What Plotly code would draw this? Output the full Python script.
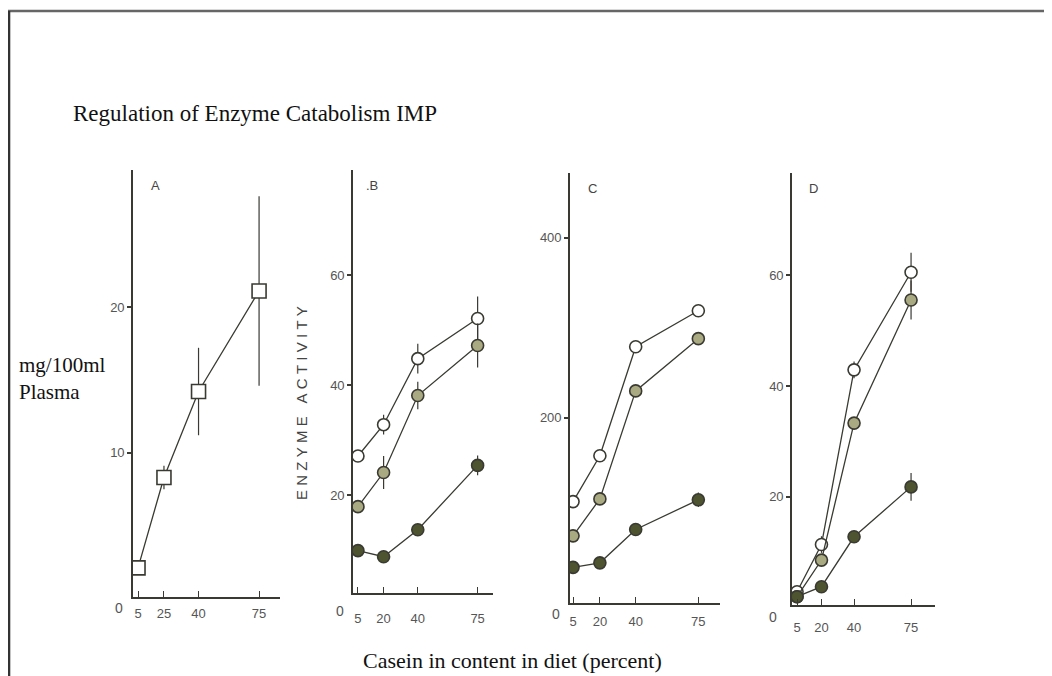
import plotly.graph_objects as go

# The page body has an 8px margin, so the figure is placed 8px right/down;
# the pixel positions below are measured on the page and shifted back.
OFF = 8
W, H = 1052 - OFF, 676 - OFF

# ---- data ----
casein = [5, 20, 40, 75]
a_tick_text = ["5", "25", "40", "75"]
bcd_tick_text = ["5", "20", "40", "75"]

a_plasma = [2.1, 8.3, 14.2, 21.1]
a_err = [0, 0.8, 3.0, 6.5]

b_open = [27.1, 32.8, 44.8, 52.1]
b_open_err = [0, 1.8, 2.7, 4.0]
b_half = [17.9, 24.1, 38.1, 47.2]
b_half_err = [0, 3.0, 2.5, 4.0]
b_fill = [9.9, 8.8, 13.7, 25.4]
b_fill_err = [0, 0, 0, 1.8]

c_open = [107, 158, 279, 319]
c_open_err = [0, 0, 0, 6]
c_half = [69, 110, 230, 288]
c_half_err = [0, 0, 0, 0]
c_fill = [34, 39, 76, 109]
c_fill_err = [0, 0, 0, 8]

d_open = [2.9, 11.4, 42.9, 60.5]
d_open_err = [0, 1.5, 1.5, 3.5]
d_half = [2.0, 8.6, 33.3, 55.5]
d_half_err = [0, 0, 0, 3.5]
d_fill = [2.0, 3.8, 12.8, 21.8]
d_fill_err = [0, 0, 0, 2.5]

a_yticks = [10, 20]
b_yticks = [20, 40, 60]
c_yticks = [200, 400]
d_yticks = [20, 40, 60]

# ---- style ----
LINE = "#3a3a32"
OPEN_FILL = "white"
HALF_FILL = "#a9a982"
FULL_FILL = "#4f5430"
TICKFONT = dict(family="Liberation Sans, Arial, sans-serif", size=13, color="#555555")
SERIF = "Liberation Serif, Times New Roman, serif"


def px_x(p):
    return (p - OFF) / W


def px_y(p):
    return 1 - (p - OFF) / H


fig = go.Figure()


def add_series(xa, ya, ys, errs, fill, symbol="circle", size=12):
    fig.add_trace(go.Scatter(
        x=casein, y=ys, xaxis=xa, yaxis=ya, mode="lines+markers",
        line=dict(color=LINE, width=1.3),
        marker=dict(symbol=symbol, size=size, color=fill,
                    line=dict(color=LINE, width=1.6)),
        error_y=dict(type="data", array=errs, visible=True,
                     color=LINE, thickness=1.2, width=0),
        showlegend=False, hoverinfo="x+y",
    ))


add_series("x", "y", a_plasma, a_err, OPEN_FILL, symbol="square", size=14)
for ys, e, f in [(b_open, b_open_err, OPEN_FILL), (b_half, b_half_err, HALF_FILL), (b_fill, b_fill_err, FULL_FILL)]:
    add_series("x2", "y2", ys, e, f)
for ys, e, f in [(c_open, c_open_err, OPEN_FILL), (c_half, c_half_err, HALF_FILL), (c_fill, c_fill_err, FULL_FILL)]:
    add_series("x3", "y3", ys, e, f)
for ys, e, f in [(d_open, d_open_err, OPEN_FILL), (d_half, d_half_err, HALF_FILL), (d_fill, d_fill_err, FULL_FILL)]:
    add_series("x4", "y4", ys, e, f)

# panel geometry in page pixels: (left, right, bottom, top), x range, y range, label standoff
panels = [
    ((133, 280, 597, 170), [2.1, 87.1], [0.1, 29.4], a_tick_text, a_yticks, 4),
    ((353, 493, 593, 170), [2.1, 84.0], [2.2, 79.1], bcd_tick_text, b_yticks, 13),
    ((570, 720, 603, 173), [3.3, 87.1], [-5.6, 472], bcd_tick_text, c_yticks, 6),
    ((792, 935, 605, 173), [1.9, 89.7], [0.5, 78.4], bcd_tick_text, d_yticks, 10),
]

layout = dict(
    width=W, height=H, margin=dict(l=0, r=0, t=0, b=0),
    paper_bgcolor="white", plot_bgcolor="white",
)
for i, ((l, r, b, t), xr, yr, xtt, ytv, so) in enumerate(panels, start=1):
    sx = "" if i == 1 else str(i)
    layout["xaxis" + sx] = dict(
        domain=[px_x(l), px_x(r)], range=xr, anchor="y" + sx,
        showline=True, linecolor="#3a3a32", linewidth=1.6, mirror=False,
        showgrid=False, zeroline=False,
        tickmode="array", tickvals=casein, ticktext=xtt,
        ticks="inside", ticklen=6, tickcolor="#3a3a32", tickwidth=1.2,
        tickfont=TICKFONT, ticklabelstandoff=so, fixedrange=True,
    )
    layout["yaxis" + sx] = dict(
        domain=[px_y(b), px_y(t)], range=yr, anchor="x" + sx,
        showline=True, linecolor="#3a3a32", linewidth=1.6, mirror=False,
        showgrid=False, zeroline=False,
        tickmode="array", tickvals=ytv, ticktext=[str(v) for v in ytv],
        ticks="outside", ticklen=4, tickcolor="#3a3a32", tickwidth=1.5,
        tickfont=TICKFONT, fixedrange=True,
    )
fig.update_layout(**layout)

ann = []


def text(x, y, s, size, family, color="#111111", xanchor="center", angle=0):
    ann.append(dict(x=px_x(x), y=px_y(y), xref="paper", yref="paper", text=s,
                    showarrow=False, xanchor=xanchor, yanchor="middle",
                    textangle=angle, font=dict(size=size, family=family, color=color)))


text(71, 113, "Regulation of Enzyme Catabolism IMP", 23, SERIF, xanchor="left")
text(17, 365, "mg/100ml", 21, SERIF, xanchor="left")
text(17, 392, "Plasma", 21, SERIF, xanchor="left")
text(512, 660, "Casein in content in diet (percent)", 22, SERIF)

sans = "Liberation Sans, Arial, sans-serif"
text(155, 185, "A", 13, sans, "#444444")
text(372, 185, ".B", 13, sans, "#444444")
text(592, 188, "C", 13, sans, "#444444")
text(813, 188, "D", 13, sans, "#444444")

for x0, y0 in [(119, 608), (340, 611), (556, 614), (773, 617)]:
    text(x0, y0, "0", 14, sans, "#555555")

gap = "\u2009\u200a"
text(301, 403, gap.join("ENZYME") + gap * 3 + gap.join("ACTIVITY"), 15, sans, "#444444", angle=-90)

fig.update_layout(annotations=ann)

# frame lines (top and left edges of the page frame)
fig.add_shape(type="line", xref="paper", yref="paper", x0=0, x1=1, y0=px_y(11), y1=px_y(11),
              line=dict(color="#666666", width=2.5))
fig.add_shape(type="line", xref="paper", yref="paper", x0=0.001, x1=0.001, y0=0, y1=px_y(11),
              line=dict(color="#333333", width=2.5))

fig.write_html("out.html")
